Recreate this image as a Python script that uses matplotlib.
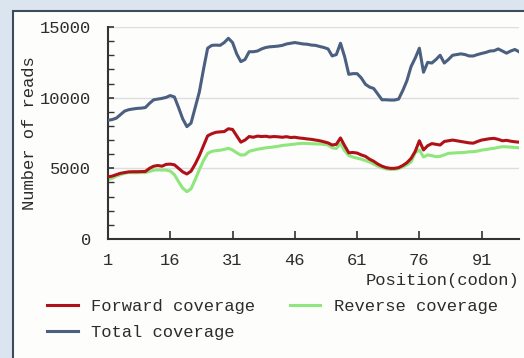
import matplotlib
matplotlib.use("Agg")
import matplotlib.pyplot as plt
from matplotlib.patches import Rectangle

# Per-codon read coverage
codons = list(range(1, 101))

forward = [4400, 4450, 4550, 4650, 4700, 4750, 4760, 4760, 4770, 4780,
           5000, 5150, 5200, 5150, 5280, 5300, 5250, 5000, 4750, 4600,
           4800, 5300, 5900, 6600, 7300, 7450, 7550, 7580, 7600, 7800,
           7750, 7300, 6850, 7000, 7250, 7200, 7280, 7250, 7270, 7220,
           7250, 7230, 7200, 7240, 7180, 7200, 7150, 7120, 7080, 7050,
           7000, 6950, 6880, 6800, 6650, 6700, 7150, 6600, 6100, 6120,
           6080, 5950, 5850, 5650, 5500, 5300, 5150, 5050, 5000, 5000,
           5050, 5200, 5400, 5700, 6200, 6950, 6300, 6600, 6750, 6700,
           6650, 6900, 6950, 7000, 6950, 6900, 6850, 6800, 6780, 6900,
           7000, 7050, 7100, 7120, 7050, 6950, 6980, 6920, 6880, 6850]

reverse = [4200, 4300, 4450, 4550, 4650, 4700, 4690, 4690, 4700, 4700,
           4780, 4870, 4890, 4880, 4880, 4800, 4550, 4050, 3600, 3350,
           3550, 4200, 4900, 5550, 6050, 6200, 6250, 6280, 6340, 6420,
           6300, 6100, 5940, 5960, 6200, 6280, 6350, 6400, 6450, 6480,
           6520, 6560, 6620, 6650, 6680, 6720, 6750, 6770, 6760, 6740,
           6730, 6720, 6700, 6650, 6450, 6400, 6750, 6250, 5900, 5800,
           5720, 5650, 5550, 5450, 5300, 5150, 5050, 4950, 4930, 4930,
           4980, 5100, 5250, 5450, 6100, 6300, 5800, 5950, 5900, 5820,
           5850, 5950, 6060, 6080, 6100, 6110, 6130, 6170, 6180, 6220,
           6290, 6330, 6380, 6420, 6480, 6530, 6520, 6500, 6480, 6450]

total = [8400, 8450, 8550, 8800, 9050, 9150, 9200, 9240, 9260, 9300,
         9600, 9850, 9900, 9950, 10020, 10150, 10050, 9300, 8500, 7950,
         8200, 9300, 10400, 12000, 13500, 13700, 13720, 13700, 13900, 14200,
         13900, 13100, 12550, 12700, 13250, 13250, 13300, 13450, 13550, 13600,
         13620, 13650, 13700, 13800, 13850, 13900, 13850, 13800, 13780, 13720,
         13700, 13620, 13550, 13450, 12950, 13050, 13850, 12900, 11650, 11700,
         11700, 11400, 10950, 10750, 10650, 10250, 9850, 9850, 9830, 9830,
         9900, 10500, 11200, 12200, 12800, 13500, 11800, 12500, 12450, 12700,
         13000, 12450, 12700, 13000, 13050, 13100, 13050, 12950, 12950, 13050,
         13130, 13200, 13300, 13320, 13450, 13300, 13150, 13300, 13410, 13250]

x_ticks = [1, 16, 31, 46, 61, 76, 91]
y_ticks = [0, 5000, 10000, 15000]

W, H = 524, 358
fig = plt.figure(figsize=(W / 100, H / 100), dpi=100)
fig.patch.set_facecolor("#dbe5ef")

# white panel with dark frame, kept behind the axes
panel = Rectangle((13 / W, -0.05), 1.0, (H - 11) / H + 0.05,
                  transform=fig.transFigure, facecolor="#fdfdfc",
                  edgecolor="#3e4b5a", linewidth=1.5, zorder=-10)
fig.patches.append(panel)

ax = fig.add_axes([108 / W, 1 - 239 / H, (519 - 108) / W, (239 - 27) / H])
ax.set_facecolor("none")
ax.set_zorder(1)

font = ["Liberation Mono"]
fs = 12.3
tc = "#2c2c2c"

ax.plot(codons, forward, color="#b01018", lw=2.2, label="Forward coverage", zorder=3)
ax.plot(codons, total, color="#4b5f80", lw=2.2, label="Total coverage", zorder=3)
ax.plot(codons, reverse, color="#8ee67c", lw=2.2, label="Reverse coverage", zorder=2)

ax.set_xlim(1, 100)
ax.set_ylim(0, 15000)
ax.set_xticks(x_ticks)
ax.set_yticks(y_ticks)
ax.set_yticks(range(0, 15001, 1000), minor=True)
ax.tick_params(axis="x", direction="in", length=6, width=1.2, color="#333333",
               pad=10, labelsize=fs, labelcolor=tc)
ax.tick_params(axis="y", which="major", direction="in", length=4, width=1.2,
               color="#333333", pad=12, labelsize=fs, labelcolor=tc)
ax.tick_params(axis="y", which="minor", direction="in", length=4, width=1.0,
               color="#333333")
for lab in ax.get_xticklabels() + ax.get_yticklabels():
    lab.set_family(font)

ax.grid(axis="y", which="major", color="#dedede", lw=1.0, zorder=0)
for side in ("top", "right"):
    ax.spines[side].set_visible(False)
for side in ("left", "bottom"):
    ax.spines[side].set_color("#333333")
    ax.spines[side].set_linewidth(1.5)

ax.set_ylabel("Number of reads", family=font, fontsize=fs, color=tc, labelpad=2)
ax.text(1.0, -0.195, "Position(codon)", transform=ax.transAxes, ha="right",
        va="center", family=font, fontsize=fs, color=tc)

handles, labels = ax.get_legend_handles_labels()
leg = fig.legend(handles, labels,
                 ncol=2, loc="upper left", bbox_to_anchor=(47 / W, 1 - 299 / H),
                 frameon=False, borderpad=0, borderaxespad=0,
                 handlelength=1.8, handletextpad=0.8, columnspacing=2.0,
                 labelspacing=0.62, prop={"family": font, "size": fs})
for t in leg.get_texts():
    t.set_color(tc)

fig.savefig("out.png", dpi=100, facecolor=fig.get_facecolor())
